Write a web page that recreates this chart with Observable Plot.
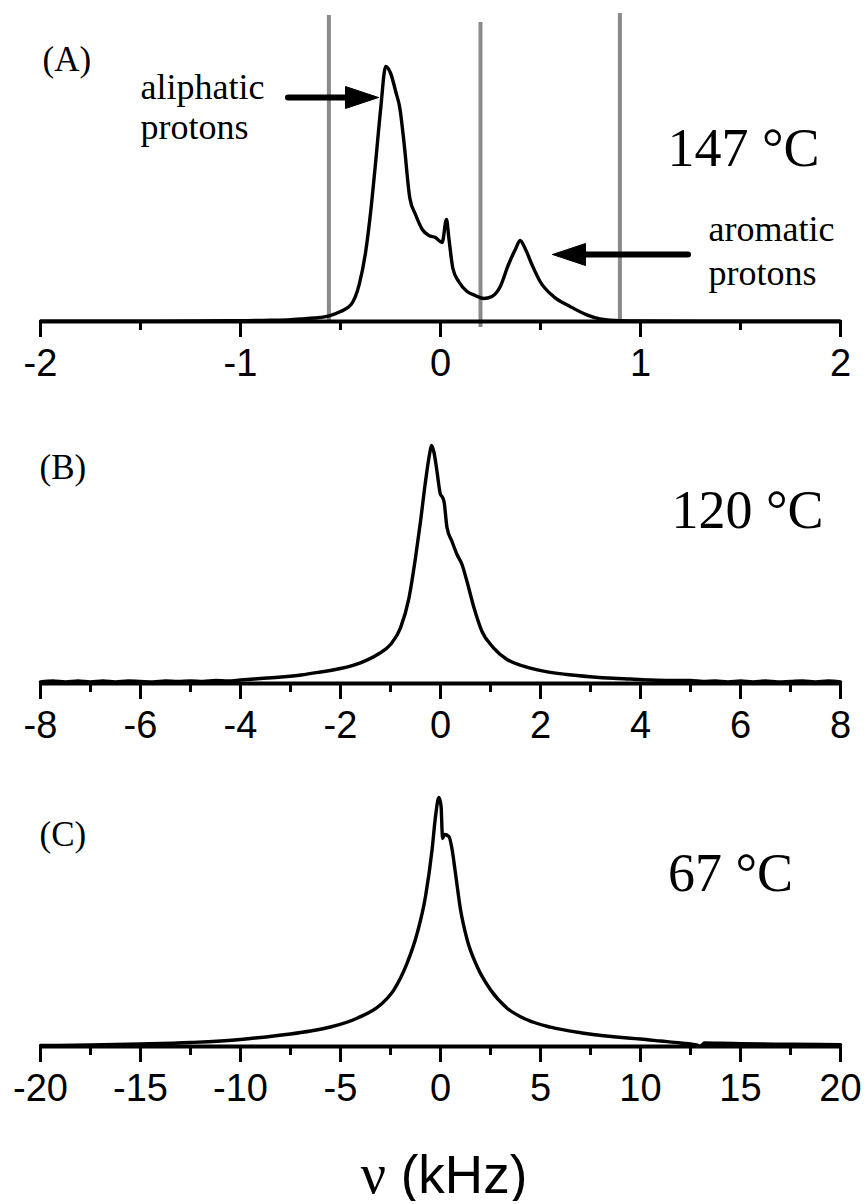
<!DOCTYPE html>
<html>
<head>
<meta charset="utf-8">
<script src="https://cdn.jsdelivr.net/npm/d3@7"></script>
<script src="https://cdn.jsdelivr.net/npm/@observablehq/plot@0.6"></script>
<style>
  body { margin: 0; background: #fff; }
  #chart svg { display: block; }
  #caption {
    font-family: "Liberation Sans", Arial, sans-serif;
    font-size: 53px; line-height: 53px; color: #000;
    width: 868px; box-sizing: border-box; padding-left: 20px;
    text-align: center; margin-top: 42px;
  }
  #caption .nu { font-family: "Liberation Serif", "Times New Roman", serif; font-size: 56px; }
</style>
</head>
<body>
<div id="chart"></div>
<div id="caption"><span class="nu">ν</span> (kHz)</div>
<script>
// ---------- Panel A (147 °C), ν in kHz, intensity in a.u. ----------
const aNu = [-2, -1.6, -1.2, -1.0, -0.85, -0.75, -0.70, -0.63, -0.556, -0.5, -0.448, -0.407, -0.374, -0.349, -0.324, -0.299, -0.274, -0.249, -0.224, -0.203, -0.183, -0.153, -0.125, -0.091, -0.058, -0.025, 0.008, 0.030, 0.042, 0.062, 0.091, 0.133, 0.174, 0.216, 0.257, 0.299, 0.340, 0.374, 0.398, 0.423, 0.457, 0.498, 0.565, 0.648, 0.731, 0.797, 0.897, 1.0, 1.3, 1.6, 2.0];
const aInt = [0.3, 0.3, 0.5, 0.8, 1.2, 1.8, 2.5, 3.5, 5.7, 10, 16.7, 36.7, 70, 110, 160, 213, 255, 248, 230, 213, 180, 123, 107, 92, 86, 84, 79, 102, 83, 53, 40, 30, 26, 23, 25, 35, 57, 72, 81, 73, 57, 40, 25, 15, 6.7, 2.7, 0.7, 0.5, 0.3, 0.3, 0.3];
const aMajor = [-2, -1, 0, 1, 2];
const aMinor = [-1.5, -0.5, 0.5, 1.5];
// integration limits (grey cut lines)
const cutNu = [-0.558, 0.2, 0.897];
const cutTop = [306, 299, 308];
const cutBottom = [-2, -6, 0];
// annotations
const protonWords = ["aliphatic", "protons", "aromatic", "protons"];
const protonWordNu = [-1.5, -1.5, 1.34, 1.34];
const protonWordInt = [223, 183, 81, 37];
const arrowTail = [-0.76, 1.24];
const arrowTip = [-0.31, 0.56];
const arrowInt = [224, 67];

// ---------- Panel B (120 °C) ----------
const bNu = [-8, -7.75, -7.5, -7.25, -7, -6.75, -6.5, -6.25, -6, -5.75, -5.5, -5.25, -5, -4.75, -4.5, -4.25, -4, -3.6, -3.19, -2.79, -2.4, -2.0, -1.6, -1.26, -1.0, -0.8, -0.63, -0.5, -0.4, -0.3, -0.22, -0.18, -0.13, -0.07, 0.0, 0.03, 0.07, 0.13, 0.23, 0.33, 0.43, 0.53, 0.67, 0.83, 1.06, 1.33, 1.66, 2.06, 2.53, 2.99, 3.46, 3.8, 4.2, 4.6, 5.0, 5.25, 5.5, 5.75, 6, 6.25, 6.5, 6.75, 7, 7.25, 7.5, 7.75, 8];
const bInt = [1.5, 2.5, 1.5, 2.5, 1.5, 2.5, 1.5, 2.5, 2, 1.5, 2.5, 2, 2.5, 2, 3, 2.5, 3.5, 5, 6.5, 8.5, 11.5, 15, 20.7, 29, 39, 55.7, 85.7, 125.7, 162, 202, 229, 238, 231, 212, 189, 187, 182, 156, 142, 129, 119, 102, 75.7, 52, 35.7, 24, 17.3, 12.3, 9, 6.8, 5.2, 4.5, 3.5, 3, 3, 2, 2.5, 1.5, 2.5, 1.5, 2.5, 1.5, 2, 2.5, 1.5, 2.5, 1.5];
const bMajor = [-8, -6, -4, -2, 0, 2, 4, 6, 8];
const bMinor = [-7, -5, -3, -1, 1, 3, 5, 7];

// ---------- Panel C (67 °C) ----------
const cNu = [-20, -17.5, -15, -12.5, -10, -9.5, -7.5, -6.5, -5.5, -4.17, -3.0, -2.33, -1.67, -1.17, -0.75, -0.42, -0.25, -0.08, 0.03, 0.08, 0.1, 0.2, 0.42, 0.58, 0.75, 1.0, 1.33, 1.83, 2.5, 3.33, 4.33, 5.5, 7.17, 9.5, 10, 11, 12, 12.8, 13.0, 13.2, 14, 15, 17.5, 20];
const cInt = [1, 1.5, 2.5, 4, 7, 8, 12.5, 15.5, 19.5, 28.3, 41.7, 56.7, 83.3, 113, 150, 197, 230, 249, 240, 215, 208, 212, 210, 197, 173, 137, 107, 80, 56.7, 38.3, 26.7, 19.3, 13.3, 8.3, 7.5, 5.5, 3.5, 1.5, 0.3, 3.5, 3.2, 2.8, 2.2, 1.8];
const cMajor = [-20, -15, -10, -5, 0, 5, 10, 15, 20];
const cMinor = [-17.5, -12.5, -7.5, -2.5, 2.5, 7.5, 12.5, 17.5];

// ---------- panel labels ----------
const panelTags = ["(A)", "(B)", "(C)"];
const tagNu = [-1.99, -8.02, -20.05];
const tagInt = [262, 216, 212];
const temps = ["147 °C", "120 °C", "67 °C"];
const tempNu = [1.515, 6.14, 14.5];
const tempInt = [156, 156, 156];

const SERIF = "'Liberation Serif', 'Times New Roman', Times, serif";
const SANS = "'Liberation Sans', Arial, Helvetica, sans-serif";

function panel(i, nu, inten, domain, major, minor, height, mb, extra = []) {
  const data = nu.map((x, k) => ({x, y: inten[k]}));
  return Plot.plot({
    width: 868, height,
    marginLeft: 40, marginRight: 28, marginTop: 0, marginBottom: mb,
    x: {domain, axis: null},
    y: {domain: [0, height - mb], axis: null},
    style: {fontFamily: SANS, color: "black", background: "white", overflow: "visible"},
    marks: [
      ...extra,
      Plot.ruleY([0], {stroke: "black", strokeWidth: 4}),
      Plot.axisX(minor, {tickSize: 9, strokeWidth: 3, label: null, tickFormat: () => ""}),
      Plot.axisX(major, {tickSize: 16, tickPadding: 12, strokeWidth: 3, fontSize: 38, fill: "black", label: null, tickFormat: d => String(d)}),
      Plot.line(data, {x: "x", y: "y", stroke: "black", strokeWidth: 3.4, curve: "monotone-x"}),
      Plot.text([panelTags[i]], {x: () => tagNu[i], y: () => tagInt[i], text: d => d, textAnchor: "start", lineAnchor: "middle", fontFamily: SERIF, fontSize: 35, fill: "black"}),
      Plot.text([temps[i]], {x: () => tempNu[i], y: () => tempInt[i], text: d => d, textAnchor: "middle", lineAnchor: "bottom", fontFamily: SERIF, fontSize: 54, fill: "black"})
    ]
  });
}

// Panel A extras: cut lines, arrows, proton labels
const cuts = cutNu.map((x, k) => ({x, y1: cutBottom[k], y2: cutTop[k]}));
const arrows = arrowTail.map((t, k) => ({x1: t, x2: arrowTip[k], y: arrowInt[k]}));
const headLen = 0.165, headHalf = 11;
const heads = arrows.flatMap((a, k) => {
  const dir = Math.sign(a.x2 - a.x1);
  const base = a.x2 - dir * headLen;
  return [
    {id: k, x: a.x2, y: a.y},
    {id: k, x: base, y: a.y + headHalf},
    {id: k, x: base, y: a.y - headHalf},
    {id: k, x: a.x2, y: a.y}
  ];
});
const shafts = arrows.map(a => ({x1: a.x1, x2: a.x2 - Math.sign(a.x2 - a.x1) * headLen * 0.8, y: a.y}));
const words = protonWords.map((t, k) => ({t, x: protonWordNu[k], y: protonWordInt[k]}));

const extraA = [
  Plot.ruleX(cuts, {x: "x", y1: "y1", y2: "y2", stroke: "#8a8a8a", strokeWidth: 4}),
  Plot.ruleY(shafts, {x1: "x1", x2: "x2", y: "y", stroke: "black", strokeWidth: 6, strokeLinecap: "round"}),
  Plot.line(heads, {x: "x", y: "y", z: "id", fill: "black", stroke: "black", strokeWidth: 1}),
  Plot.text(words, {x: "x", y: "y", text: "t", textAnchor: "start", lineAnchor: "bottom", fontFamily: SERIF, fontSize: 36, fill: "black"})
];

const chart = document.getElementById("chart");
chart.append(panel(0, aNu, aInt, [-2, 2], aMajor, aMinor, 380, 59, extraA));
chart.append(panel(1, bNu, bInt, [-8, 8], bMajor, bMinor, 362, 59));
chart.append(panel(2, cNu, cInt, [-20, 20], cMajor, cMinor, 364, 60));
</script>
</body>
</html>
